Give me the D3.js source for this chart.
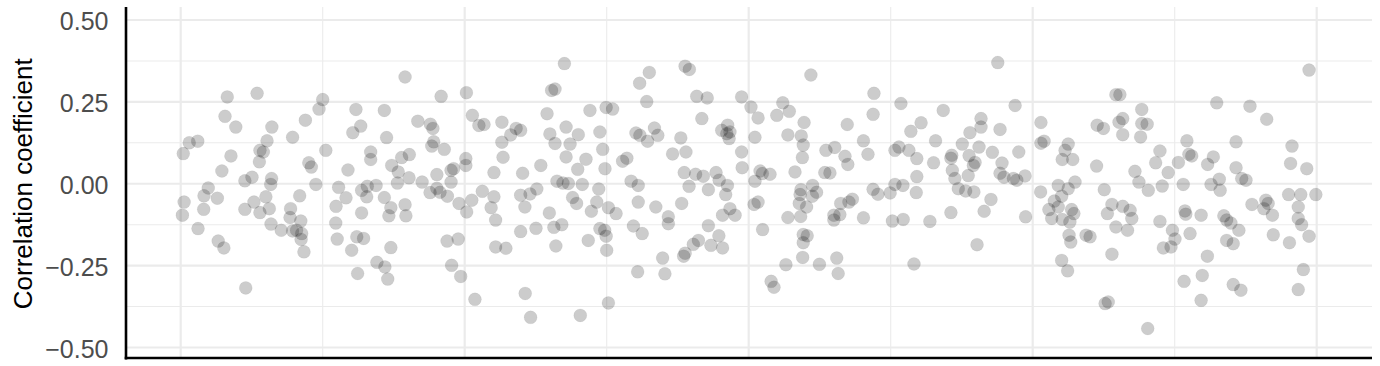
<!DOCTYPE html>
<html><head><meta charset="utf-8">
<script src="https://cdn.jsdelivr.net/npm/d3@7"></script>
<style>html,body{margin:0;padding:0;background:#fff;} svg{display:block;}</style>
</head><body>
<svg id="chart" width="1380" height="366"></svg>
<script>
// x position (arbitrary index units, axis unlabeled) and correlation coefficient of each point
const position = [
16.4,15.6,19.4,3.0,6.0,0.9,17.7,14.5,22.6,25.1,9.7,8.2,12.9,1.2,0.6,8.1,22.6,25.8,6.1,13.2,15.2,22.9,26.9,27.9,
29.1,27.7,50.0,48.7,61.7,43.9,32.1,63.4,60.6,39.4,30.4,51.1,66.9,66.9,45.1,46.0,58.9,32.0,31.7,47.6,55.6,63.7,65.7,68.8,65.5,41.9,58.2,30.0,31.2,27.9,54.7,38.7,38.5,42.3,63.7,31.8,35.4,39.4,42.6,40.8,42.4,43.4,54.6,55.1,62.0,64.4,60.2,69.1,62.3,
79.0,91.7,100.6,71.7,83.5,87.9,88.8,102.7,105.0,106.8,113.1,72.5,89.1,88.4,92.8,113.1,77.8,80.5,74.3,76.6,100.4,100.4,96.1,95.2,113.5,110.3,90.2,80.4,76.3,85.0,95.2,87.8,90.2,91.3,93.9,71.7,106.2,102.5,110.3,98.0,74.0,79.0,73.3,79.3,100.7,109.3,110.9,93.8,97.7,74.0,110.9,71.9,72.9,95.4,98.6,103.6,
135.1,130.6,131.8,144.1,149.8,152.1,129.0,135.7,118.1,119.7,116.2,130.0,140.0,147.6,131.8,137.1,148.6,135.7,142.7,157.1,155.6,126.8,139.8,149.4,120.4,132.5,134.6,136.5,141.4,147.2,125.4,119.7,123.0,121.2,138.0,139.4,146.5,150.6,153.3,144.6,129.8,131.4,134.2,125.1,119.7,147.6,149.3,149.8,114.5,132.1,143.5,150.0,121.3,123.2,140.7,150.6,158.6,
177.6,179.1,165.0,161.6,181.7,185.4,197.5,200.8,164.1,183.5,160.3,161.7,166.8,168.0,164.4,176.1,190.5,192.6,192.3,193.4,193.1,202.2,173.2,177.9,197.5,197.7,177.3,181.3,184.0,188.5,189.6,161.1,179.0,185.8,192.5,191.9,202.2,161.1,167.3,176.4,193.4,195.2,190.8,201.9,203.3,171.7,171.7,159.4,162.5,185.8,189.5,182.3,180.5,186.7,190.8,169.7,177.1,177.6,160.9,170.5,
221.9,244.1,212.0,214.3,209.9,203.3,243.8,219.5,234.7,213.8,218.5,219.2,240.4,227.2,230.3,233.9,234.9,242.0,218.9,216.3,204.0,204.8,207.5,226.8,228.6,218.4,222.5,223.9,222.4,218.1,217.8,220.4,243.8,245.5,232.4,236.5,235.3,213.8,218.3,230.0,230.0,232.1,240.4,204.9,219.2,220.6,219.2,219.0,213.1,224.9,231.0,231.5,207.9,208.9,
287.7,253.6,268.5,260.7,257.1,281.8,281.8,277.9,288.5,265.8,275.2,251.5,252.9,256.4,281.1,285.8,259.2,271.5,271.2,277.6,279.7,279.1,265.1,271.7,277.3,289.2,288.5,289.9,259.2,272.6,251.5,254.3,273.8,276.4,279.3,249.8,259.0,285.3,271.2,282.9,250.6,254.4,263.8,280.4,258.2,
293.8,329.3,330.7,302.9,322.7,324.9,331.7,330.4,331.7,302.9,304.0,295.1,312.5,311.4,310.4,314.1,322.5,293.2,294.4,297.3,314.9,309.0,312.5,302.8,325.2,310.2,307.6,305.7,309.0,306.7,313.7,314.5,310.4,313.1,297.5,327.9,326.3,331.7,334.3,329.3,312.8,313.4,318.8,320.2,327.9,310.2,312.3,325.5,326.6,
338.4,364.8,376.5,338.4,340.3,338.0,354.3,371.6,344.8,343.3,351.3,355.0,356.0,363.6,361.6,371.6,373.6,375.1,347.7,336.0,337.4,340.7,345.6,353.0,362.8,365.7,366.0,377.2,334.9,333.4,344.8,353.6,353.9,359.3,367.3,368.3,369.8,372.6,349.2,350.1,346.0,348.7,355.4,368.3,370.6,361.5,353.3,359.7,359.3,370.6,373.3,340.5,
397.3,382.4,391.3,390.8,396.5,390.1,394.4,399.7,382.1,382.9,381.4,384.4,393.5,393.5,394.7,397.3,384.7,390.4,395.3,393.5
];
const correlation = [
0.265,0.206,0.173,0.125,0.130,0.092,0.085,0.039,0.009,0.020,-0.013,-0.037,-0.044,-0.056,-0.096,-0.078,-0.078,-0.056,-0.137,-0.175,-0.196,-0.318,0.276,0.102,
0.097,0.067,0.257,0.228,0.227,0.194,0.173,0.176,0.156,0.142,0.131,0.102,0.097,0.074,0.064,0.051,0.042,0.016,-0.002,-0.002,-0.011,-0.020,-0.008,-0.005,-0.040,-0.037,-0.043,-0.040,-0.076,-0.088,-0.069,-0.076,-0.103,-0.114,-0.089,-0.123,-0.142,-0.144,-0.152,-0.142,-0.170,-0.208,-0.120,-0.169,-0.162,-0.167,-0.203,-0.240,-0.274,
0.326,0.267,0.278,0.224,0.191,0.182,0.169,0.209,0.178,0.181,0.188,0.141,0.128,0.115,0.105,0.127,0.080,0.089,0.056,0.036,0.077,0.056,0.046,0.041,0.081,0.034,0.028,0.018,0.002,0.005,0.005,-0.027,-0.014,-0.026,-0.038,-0.042,-0.023,-0.050,-0.040,-0.060,-0.073,-0.064,-0.098,-0.098,-0.086,-0.073,-0.111,-0.175,-0.169,-0.195,-0.193,-0.254,-0.291,-0.249,-0.283,-0.353,
0.367,0.285,0.289,0.224,0.233,0.228,0.214,0.173,0.169,0.163,0.149,0.152,0.150,0.158,0.123,0.121,0.105,0.082,0.075,0.078,0.069,0.056,0.044,0.046,0.032,0.008,0.002,0.001,-0.002,-0.016,-0.016,-0.035,-0.031,-0.071,-0.042,-0.060,-0.056,-0.073,-0.091,-0.084,-0.089,-0.133,-0.125,-0.136,-0.146,-0.137,-0.142,-0.160,-0.197,-0.190,-0.173,-0.203,-0.335,-0.408,-0.402,-0.364,0.008,
0.359,0.349,0.340,0.307,0.267,0.262,0.265,0.234,0.251,0.199,0.155,0.148,0.170,0.148,0.130,0.140,0.163,0.179,0.153,0.158,0.138,0.142,0.091,0.097,0.097,0.049,0.034,0.029,0.023,0.034,0.011,-0.005,-0.008,-0.018,-0.005,-0.033,0.008,-0.056,-0.071,-0.060,-0.076,-0.096,-0.096,-0.063,-0.056,-0.101,-0.122,-0.129,-0.152,-0.128,-0.159,-0.173,-0.185,-0.188,-0.196,-0.227,-0.221,-0.212,-0.269,-0.275,
0.332,0.276,0.247,0.221,0.209,0.201,0.212,0.187,0.181,0.149,0.146,0.118,0.131,0.102,0.111,0.084,0.059,0.090,0.080,0.036,0.039,0.031,0.029,0.034,0.033,-0.018,-0.005,-0.026,-0.038,-0.033,-0.060,-0.071,-0.017,-0.032,-0.060,-0.047,-0.056,-0.103,-0.100,-0.096,-0.111,-0.094,-0.104,-0.140,-0.155,-0.159,-0.180,-0.225,-0.247,-0.246,-0.227,-0.274,-0.298,-0.316,
0.370,0.245,0.224,0.186,0.160,0.199,0.173,0.156,0.166,0.131,0.121,0.102,0.112,0.102,0.112,0.096,0.077,0.087,0.078,0.086,0.065,0.056,0.064,0.041,0.025,0.063,0.032,0.020,0.022,0.016,-0.002,-0.005,-0.015,-0.022,-0.025,-0.028,-0.027,-0.048,-0.088,-0.084,-0.114,-0.109,-0.115,-0.186,-0.245,
0.239,0.272,0.272,0.187,0.179,0.169,0.199,0.188,0.150,0.124,0.130,0.097,0.121,0.102,0.074,0.074,0.054,0.016,0.011,0.024,0.005,-0.005,-0.015,-0.025,-0.018,-0.038,-0.053,-0.079,-0.071,-0.106,-0.079,-0.091,-0.109,-0.117,-0.101,-0.063,-0.091,-0.069,-0.081,-0.132,-0.157,-0.178,-0.157,-0.162,-0.215,-0.234,-0.266,-0.366,-0.361,
0.227,0.247,0.237,0.184,0.182,0.143,0.131,0.128,0.100,0.064,0.065,0.090,0.085,0.082,0.059,0.049,0.016,0.011,0.034,0.038,0.005,-0.020,-0.007,-0.002,-0.002,0.014,-0.020,-0.063,-0.106,-0.142,-0.115,-0.083,-0.093,-0.096,-0.098,-0.111,-0.120,-0.142,-0.142,-0.169,-0.196,-0.193,-0.152,-0.173,-0.183,-0.221,-0.298,-0.280,-0.356,-0.308,-0.325,-0.442,
0.347,0.197,0.115,0.062,0.046,-0.033,-0.033,-0.033,-0.050,-0.060,-0.076,-0.096,-0.071,-0.106,-0.125,-0.160,-0.156,-0.180,-0.262,-0.323
];
const yTicks = [-0.5, -0.25, 0, 0.25, 0.5];
const yTickLabels = ["\u22120.50", "\u22120.25", "0.00", "0.25", "0.50"];
const yMinorTicks = [-0.375, -0.125, 0.125, 0.375];
const xMajorTicks = [0, 100, 200, 300, 400];
const xMinorTicks = [50, 150, 250, 350];
const yTitle = "Correlation coefficient";

const data = position.map((p, i) => ({x: p, y: correlation[i]}));

const svg = d3.select("#chart");
const panel = {left: 126, right: 1372, top: 7, bottom: 358};
const x = d3.scaleLinear().domain([0, 400]).range([180.7, 1316.7]);
const y = d3.scaleLinear().domain([-0.5, 0.5]).range([347.5, 20]);
const font = "'Liberation Sans', Arial, Helvetica, sans-serif";
const gridCol = "#ebebeb";

const grid = svg.append("g");
// horizontal minor / major
grid.selectAll("line.hmin").data(yMinorTicks).join("line")
  .attr("x1", panel.left).attr("x2", panel.right)
  .attr("y1", d => y(d)).attr("y2", d => y(d))
  .attr("stroke", gridCol).attr("stroke-width", 1.1);
grid.selectAll("line.vmin").data(xMinorTicks).join("line")
  .attr("y1", panel.top).attr("y2", panel.bottom)
  .attr("x1", d => x(d)).attr("x2", d => x(d))
  .attr("stroke", gridCol).attr("stroke-width", 1.1);
grid.selectAll("line.hmaj").data(yTicks).join("line")
  .attr("x1", panel.left).attr("x2", panel.right)
  .attr("y1", d => y(d)).attr("y2", d => y(d))
  .attr("stroke", gridCol).attr("stroke-width", 2.2);
grid.selectAll("line.vmaj").data(xMajorTicks).join("line")
  .attr("y1", panel.top).attr("y2", panel.bottom)
  .attr("x1", d => x(d)).attr("x2", d => x(d))
  .attr("stroke", gridCol).attr("stroke-width", 2.2);

// points
svg.append("g").selectAll("circle").data(data).join("circle")
  .attr("cx", d => x(d.x)).attr("cy", d => y(d.y)).attr("r", 6.5)
  .attr("fill", "#000").attr("fill-opacity", 0.2)
  .attr("stroke", "#000").attr("stroke-opacity", 0.06).attr("stroke-width", 0.8);

// y axis labels
const yAxis = d3.axisLeft(y).tickValues(yTicks)
  .tickFormat((d, i) => yTickLabels[i]).tickSize(0).tickPadding(17.5);
const gy = svg.append("g").attr("transform", `translate(${panel.left},0)`).call(yAxis);
gy.select(".domain").remove();
gy.selectAll("text").attr("font-family", font).attr("font-size", 25)
  .attr("fill", "#4d4d4d").attr("dy", "0.38em");

// axis lines
svg.append("line").attr("x1", panel.left).attr("x2", panel.left)
  .attr("y1", panel.top).attr("y2", panel.bottom + 1.5)
  .attr("stroke", "#000").attr("stroke-width", 2.6);
svg.append("line").attr("x1", panel.left - 1.3).attr("x2", panel.right)
  .attr("y1", panel.bottom).attr("y2", panel.bottom)
  .attr("stroke", "#000").attr("stroke-width", 2.6);

// y title
svg.append("text").attr("transform", `translate(32, ${y(0)}) rotate(-90)`)
  .attr("text-anchor", "middle").attr("font-family", font).attr("font-size", 26)
  .attr("fill", "#000").text(yTitle);
</script>
</body></html>
